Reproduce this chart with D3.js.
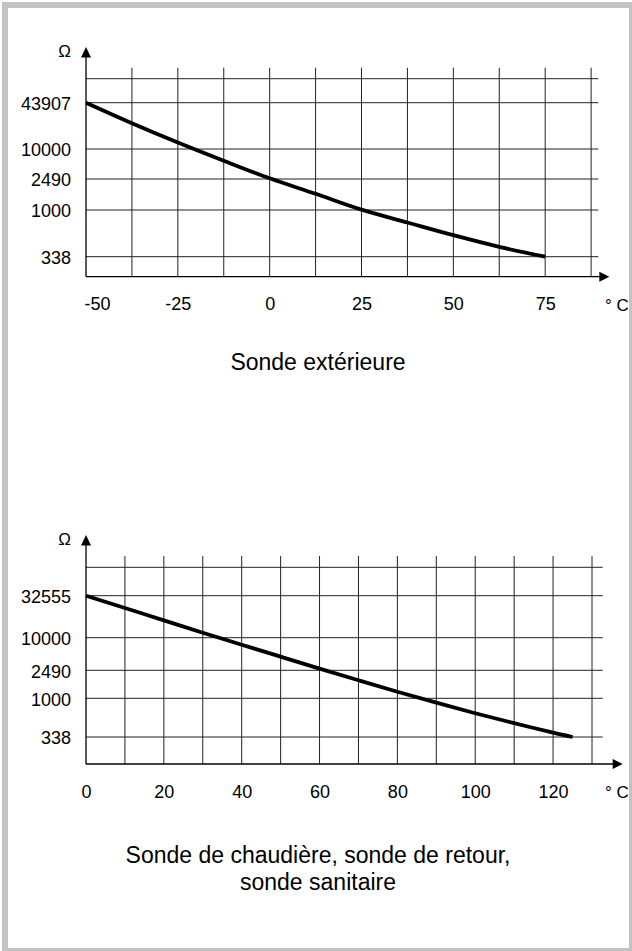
<!DOCTYPE html>
<html lang="fr">
<head>
<meta charset="utf-8">
<title>Courbes des sondes</title>
<script src="https://cdn.jsdelivr.net/npm/d3@7"></script>
<style>
  body { margin: 0; background: #fff; }
  text { font-family: "Liberation Sans", Arial, Helvetica, sans-serif; fill: #000; }
</style>
</head>
<body>
<script>
// sonde extérieure
var tempOut = [-50, -37.5, -25, -12.5, 0, 12.5, 25, 37.5, 50, 62.5, 75];
var ohmOut = [43907, 22800, 12300, 5800, 2570, 1610, 1010, 748, 557, 425, 338];
var yTicksOut = [338, 1000, 2490, 10000, 43907];
var xTicksOut = [-50, -25, 0, 25, 50, 75];

// sonde de chaudière / retour / sanitaire
var tempBoiler = [0, 10, 20, 30, 40, 50, 60, 70, 80, 90, 100, 110, 120, 125];
var ohmBoiler = [32555, 23000, 16300, 11500, 7420, 4450, 2680, 1800, 1240, 884, 658, 498, 382, 338];
var yTicksBoiler = [338, 1000, 2490, 10000, 32555];
var xTicksBoiler = [0, 20, 40, 60, 80, 100, 120];

var titleOut = ["Sonde extérieure"];
var titleBoiler = ["Sonde de chaudière, sonde de retour,", "sonde sanitaire"];

var w = 632, h = 951;

var svg = d3.select("body").append("svg")
  .attr("width", w)
  .attr("height", h);

// cadre gris
var frame = "#c3c3c3";
svg.append("rect").attr("x", 2).attr("y", 2).attr("width", 6).attr("height", h - 2).attr("fill", frame);
svg.append("rect").attr("x", 2).attr("y", 2).attr("width", w - 2).attr("height", 6).attr("fill", frame);
svg.append("rect").attr("x", w - 3).attr("y", 2).attr("width", 3).attr("height", h - 2).attr("fill", frame);
svg.append("rect").attr("x", 2).attr("y", h - 3).attr("width", w - 2).attr("height", 3).attr("fill", frame);

var fmt = function(d) { return String(d); };

function drawChart(opt) {
  var g = svg.append("g");

  var x = d3.scaleLinear()
    .domain([opt.xMin, opt.xMax])
    .range([opt.left, opt.gridRight]);

  // échelle log par morceaux (graduations non régulières sur l'original)
  var y = d3.scaleLog()
    .domain(opt.yTicks)
    .range(opt.rows);

  var gridColor = "#222";

  // grille verticale
  g.selectAll(".vgrid")
    .data(d3.range(opt.xMin + opt.step, opt.xMax + opt.step / 2, opt.step))
    .enter().append("line")
    .attr("x1", function(d) { return x(d); })
    .attr("x2", function(d) { return x(d); })
    .attr("y1", opt.gridTop)
    .attr("y2", opt.axisY)
    .attr("stroke", gridColor)
    .attr("stroke-width", 1);

  // grille horizontale
  g.selectAll(".hgrid")
    .data(opt.yTicks)
    .enter().append("line")
    .attr("x1", opt.left)
    .attr("x2", opt.hRight)
    .attr("y1", function(d) { return y(d); })
    .attr("y2", function(d) { return y(d); })
    .attr("stroke", gridColor)
    .attr("stroke-width", 1);

  g.append("line")
    .attr("x1", opt.left).attr("x2", opt.hRight)
    .attr("y1", opt.hTop).attr("y2", opt.hTop)
    .attr("stroke", gridColor)
    .attr("stroke-width", 1);

  // axes avec flèches
  g.append("line")
    .attr("x1", opt.left).attr("x2", opt.left)
    .attr("y1", opt.yTip + 9).attr("y2", opt.axisY)
    .attr("stroke", "#000").attr("stroke-width", 1.3);
  g.append("path")
    .attr("d", "M" + opt.left + "," + opt.yTip + "L" + (opt.left - 5) + "," + (opt.yTip + 10.5) + "L" + (opt.left + 5) + "," + (opt.yTip + 10.5) + "Z")
    .attr("fill", "#000");

  g.append("line")
    .attr("x1", opt.left).attr("x2", opt.xTip - 9)
    .attr("y1", opt.axisY).attr("y2", opt.axisY)
    .attr("stroke", "#000").attr("stroke-width", 1.3);
  g.append("path")
    .attr("d", "M" + opt.xTip + "," + opt.axisY + "L" + (opt.xTip - 10) + "," + (opt.axisY - 5) + "L" + (opt.xTip - 10) + "," + (opt.axisY + 5) + "Z")
    .attr("fill", "#000");

  // courbe
  var line = d3.line()
    .x(function(d) { return x(d[0]); })
    .y(function(d) { return y(d[1]); })
    .curve(d3.curveCatmullRom.alpha(0.5));

  g.append("path")
    .datum(d3.zip(opt.temps, opt.ohms))
    .attr("d", line)
    .attr("fill", "none")
    .attr("stroke", "#000")
    .attr("stroke-width", 3.8);

  // étiquettes
  var xAxis = g.append("g")
    .attr("transform", "translate(0," + opt.axisY + ")")
    .call(d3.axisBottom(x).tickValues(opt.xTicks).tickSize(0).tickPadding(21).tickFormat(fmt));
  xAxis.select(".domain").remove();
  xAxis.selectAll("text")
    .attr("font-size", "18px")
    .attr("font-family", null)
    .attr("dx", function(d) { return d < 0 && d === opt.xMin ? 11 : 0; });

  var yAxis = g.append("g")
    .attr("transform", "translate(" + opt.left + ",0)")
    .call(d3.axisLeft(y).tickValues(opt.yTicks).tickSize(0).tickPadding(15).tickFormat(fmt));
  yAxis.select(".domain").remove();
  yAxis.selectAll("text")
    .attr("font-size", "18px")
    .attr("font-family", null)
    .attr("dy", "0.38em");

  g.append("text")
    .attr("x", 71).attr("y", opt.yTip + 10)
    .attr("text-anchor", "end")
    .attr("font-size", "17px")
    .text("Ω");

  g.append("text")
    .attr("x", 605).attr("y", opt.axisY + 34)
    .attr("font-size", "17px")
    .text("° C");

  g.selectAll(".title")
    .data(opt.title)
    .enter().append("text")
    .attr("x", 318)
    .attr("y", function(d, i) { return opt.titleY + i * 27.5; })
    .attr("text-anchor", "middle")
    .attr("font-size", "23px")
    .text(function(d) { return d; });
}

drawChart({
  temps: tempOut, ohms: ohmOut, yTicks: yTicksOut, xTicks: xTicksOut,
  xMin: -50, xMax: 87.5, step: 12.5,
  left: 86, gridRight: 591.1, hRight: 598.3,
  rows: [256.7, 210, 179, 149, 102.7],
  gridTop: 67.7, hTop: 78.7, axisY: 276.7,
  yTip: 47, xTip: 609.3,
  title: titleOut, titleY: 370
});

drawChart({
  temps: tempBoiler, ohms: ohmBoiler, yTicks: yTicksBoiler, xTicks: xTicksBoiler,
  xMin: 0, xMax: 130, step: 10,
  left: 86, gridRight: 592, hRight: 602.7,
  rows: [737, 698.3, 670.3, 637.7, 595.7],
  gridTop: 556, hTop: 567.3, axisY: 764,
  yTip: 535, xTip: 622.7,
  title: titleBoiler, titleY: 862.5
});
</script>
</body>
</html>
